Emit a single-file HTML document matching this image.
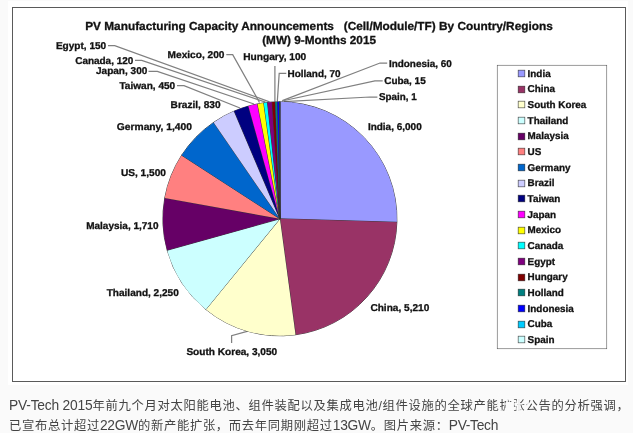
<!DOCTYPE html>
<html lang="zh-CN"><head><meta charset="utf-8"><title>PV Manufacturing Capacity Announcements</title>
<style>
html,body{margin:0;padding:0;}
body{width:633px;height:433px;overflow:hidden;background:#fafafa;position:relative;font-family:"Liberation Sans","Noto Sans CJK SC",sans-serif;}
.cap i{font-style:normal;font-size:13.8px;letter-spacing:-0.3px;line-height:0;}
.cap{position:absolute;left:9px;top:396px;width:640px;font-size:12.3px;letter-spacing:0.7px;line-height:20px;color:#444;white-space:nowrap;margin:0;}
</style></head><body>
<svg width="633" height="433" viewBox="0 0 633 433" style="position:absolute;left:0;top:0;filter:blur(0.4px)">
<rect x="8" y="1" width="620" height="384" fill="#fff"/>
<rect x="12.5" y="7.5" width="613" height="374" fill="#fff" stroke="#5a5a5a" stroke-width="1"/>
<g font-family="'Liberation Sans',sans-serif" font-weight="bold" fill="#111" stroke="#111" stroke-width="0.25" paint-order="stroke" style="text-rendering:geometricPrecision">
<g font-size="11.7px" stroke-width="0.3">
<text x="85.2" y="29.9" textLength="467.6" lengthAdjust="spacingAndGlyphs" xml:space="preserve">PV Manufacturing Capacity Announcements   (Cell/Module/TF) By Country/Regions</text>
<text x="262.2" y="44" textLength="113.8" lengthAdjust="spacingAndGlyphs">(MW) 9-Months 2015</text>
</g>
<path d="M108,45.6 H114.7 L269.5,101.8" fill="none" stroke="#808080" stroke-width="1.25"/><path d="M135,60.3 H141.7 L265.5,102.2" fill="none" stroke="#808080" stroke-width="1.25"/><path d="M148.5,71.4 H157.3 L254,104" fill="none" stroke="#808080" stroke-width="1.25"/><path d="M177,85.7 H184 L240,108" fill="none" stroke="#808080" stroke-width="1.25"/><path d="M226.3,54.7 H232.7 L259.5,102.5" fill="none" stroke="#808080" stroke-width="1.25"/><path d="M274.9,65.9 V101.5" fill="none" stroke="#808080" stroke-width="1.25"/><path d="M286.3,73.3 H279.2 L277.3,101.5" fill="none" stroke="#808080" stroke-width="1.25"/><path d="M387.2,63 H380 L282.3,100.6" fill="none" stroke="#808080" stroke-width="1.25"/><path d="M382.7,80.9 H374.9 L282,101" fill="none" stroke="#808080" stroke-width="1.25"/><path d="M377.4,97 H370 L284,101.6" fill="none" stroke="#808080" stroke-width="1.25"/><path d="M231.6,342.9 V335.7 L248,331.2" fill="none" stroke="#808080" stroke-width="1.25"/>
<g><path d="M279.9,218.8 L279.90,101.80 A117.0,117.0 0 0 1 396.85,222.27 Z" fill="#9999ff" stroke="#333" stroke-width="0.9" stroke-linejoin="round"/><path d="M279.9,218.8 L396.85,222.27 A117.0,117.0 0 0 1 295.49,334.76 Z" fill="#993366" stroke="#333" stroke-width="0.9" stroke-linejoin="round"/><path d="M279.9,218.8 L295.49,334.76 A117.0,117.0 0 0 1 205.90,309.42 Z" fill="#ffffcc" stroke="#333" stroke-width="0.9" stroke-linejoin="round"/><path d="M279.9,218.8 L205.90,309.42 A117.0,117.0 0 0 1 167.21,250.26 Z" fill="#ccffff" stroke="#333" stroke-width="0.9" stroke-linejoin="round"/><path d="M279.9,218.8 L167.21,250.26 A117.0,117.0 0 0 1 164.79,197.88 Z" fill="#660066" stroke="#333" stroke-width="0.9" stroke-linejoin="round"/><path d="M279.9,218.8 L164.79,197.88 A117.0,117.0 0 0 1 181.66,155.25 Z" fill="#ff8080" stroke="#333" stroke-width="0.9" stroke-linejoin="round"/><path d="M279.9,218.8 L181.66,155.25 A117.0,117.0 0 0 1 213.63,122.38 Z" fill="#0066cc" stroke="#333" stroke-width="0.9" stroke-linejoin="round"/><path d="M279.9,218.8 L213.63,122.38 A117.0,117.0 0 0 1 234.18,111.10 Z" fill="#ccccff" stroke="#333" stroke-width="0.9" stroke-linejoin="round"/><path d="M279.9,218.8 L234.18,111.10 A117.0,117.0 0 0 1 248.40,106.12 Z" fill="#000080" stroke="#333" stroke-width="0.9" stroke-linejoin="round"/><path d="M279.9,218.8 L248.40,106.12 A117.0,117.0 0 0 1 257.56,103.95 Z" fill="#ff00ff" stroke="#333" stroke-width="0.9" stroke-linejoin="round"/><path d="M279.9,218.8 L257.56,103.95 A117.0,117.0 0 0 1 263.75,102.92 Z" fill="#ffff00" stroke="#333" stroke-width="0.9" stroke-linejoin="round"/><path d="M279.9,218.8 L263.75,102.92 A117.0,117.0 0 0 1 267.49,102.46 Z" fill="#00ffff" stroke="#333" stroke-width="0.9" stroke-linejoin="round"/><path d="M279.9,218.8 L267.49,102.46 A117.0,117.0 0 0 1 272.18,102.05 Z" fill="#800080" stroke="#333" stroke-width="0.9" stroke-linejoin="round"/><path d="M279.9,218.8 L272.18,102.05 A117.0,117.0 0 0 1 275.32,101.89 Z" fill="#800000" stroke="#333" stroke-width="0.9" stroke-linejoin="round"/><path d="M279.9,218.8 L275.32,101.89 A117.0,117.0 0 0 1 277.51,101.82 Z" fill="#008080" stroke="#333" stroke-width="0.9" stroke-linejoin="round"/><path d="M279.9,218.8 L277.51,101.82 A117.0,117.0 0 0 1 279.40,101.80 Z" fill="#0000ff" stroke="#333" stroke-width="0.9" stroke-linejoin="round"/><path d="M279.9,218.8 L279.40,101.80 A117.0,117.0 0 0 1 279.87,101.80 Z" fill="#00ccff" stroke="#333" stroke-width="0.9" stroke-linejoin="round"/><path d="M279.9,218.8 L279.87,101.80 A117.0,117.0 0 0 1 279.90,101.80 Z" fill="#ccffff" stroke="#333" stroke-width="0.9" stroke-linejoin="round"/></g>
<g font-size="9.9px" stroke-width="0.3"><text x="55.9" y="49.3" textLength="50.3" lengthAdjust="spacingAndGlyphs">Egypt, 150</text><text x="75.2" y="63.6" textLength="58.1" lengthAdjust="spacingAndGlyphs">Canada, 120</text><text x="96" y="74.2" textLength="51.3" lengthAdjust="spacingAndGlyphs">Japan, 300</text><text x="119.4" y="89.1" textLength="55.8" lengthAdjust="spacingAndGlyphs">Taiwan, 450</text><text x="170.6" y="108.0" textLength="50.0" lengthAdjust="spacingAndGlyphs">Brazil, 830</text><text x="116.8" y="129.9" textLength="75.2" lengthAdjust="spacingAndGlyphs">Germany, 1,400</text><text x="120.9" y="176.0" textLength="45.1" lengthAdjust="spacingAndGlyphs">US, 1,500</text><text x="167.6" y="58.2" textLength="56.9" lengthAdjust="spacingAndGlyphs">Mexico, 200</text><text x="243.2" y="59.6" textLength="63.1" lengthAdjust="spacingAndGlyphs">Hungary, 100</text><text x="287.5" y="76.7" textLength="53.1" lengthAdjust="spacingAndGlyphs">Holland, 70</text><text x="388.9" y="66.7" textLength="62.9" lengthAdjust="spacingAndGlyphs">Indonesia, 60</text><text x="384.2" y="83.7" textLength="41.5" lengthAdjust="spacingAndGlyphs">Cuba, 15</text><text x="379" y="100.2" textLength="37.6" lengthAdjust="spacingAndGlyphs">Spain, 1</text><text x="367.9" y="129.9" textLength="53.8" lengthAdjust="spacingAndGlyphs">India, 6,000</text><text x="370.4" y="311.0" textLength="58.9" lengthAdjust="spacingAndGlyphs">China, 5,210</text><text x="186.4" y="355.0" textLength="90.8" lengthAdjust="spacingAndGlyphs">South Korea, 3,050</text><text x="106.7" y="295.6" textLength="72.1" lengthAdjust="spacingAndGlyphs">Thailand, 2,250</text><text x="86.2" y="229.0" textLength="72.3" lengthAdjust="spacingAndGlyphs">Malaysia, 1,710</text></g>
<g font-size="9.9px" stroke-width="0.3"><rect x="497.5" y="65.5" width="109.0" height="283.0" fill="#fff" stroke="#484848" stroke-width="1.1"/><rect x="518.5" y="70.5" width="6" height="6" fill="#9999ff" stroke="#4a4a4a" stroke-width="1.3"/><text x="527.6" y="76.70">India</text><rect x="518.5" y="86.5" width="6" height="6" fill="#993366" stroke="#4a4a4a" stroke-width="1.3"/><text x="527.6" y="92.36">China</text><rect x="518.5" y="101.5" width="6" height="6" fill="#ffffcc" stroke="#4a4a4a" stroke-width="1.3"/><text x="527.6" y="108.03">South Korea</text><rect x="518.5" y="117.5" width="6" height="6" fill="#ccffff" stroke="#4a4a4a" stroke-width="1.3"/><text x="527.6" y="123.69">Thailand</text><rect x="518.5" y="133.5" width="6" height="6" fill="#660066" stroke="#4a4a4a" stroke-width="1.3"/><text x="527.6" y="139.36">Malaysia</text><rect x="518.5" y="148.5" width="6" height="6" fill="#ff8080" stroke="#4a4a4a" stroke-width="1.3"/><text x="527.6" y="155.02">US</text><rect x="518.5" y="164.5" width="6" height="6" fill="#0066cc" stroke="#4a4a4a" stroke-width="1.3"/><text x="527.6" y="170.69">Germany</text><rect x="518.5" y="180.5" width="6" height="6" fill="#ccccff" stroke="#4a4a4a" stroke-width="1.3"/><text x="527.6" y="186.35">Brazil</text><rect x="518.5" y="195.5" width="6" height="6" fill="#000080" stroke="#4a4a4a" stroke-width="1.3"/><text x="527.6" y="202.02">Taiwan</text><rect x="518.5" y="211.5" width="6" height="6" fill="#ff00ff" stroke="#4a4a4a" stroke-width="1.3"/><text x="527.6" y="217.68">Japan</text><rect x="518.5" y="227.5" width="6" height="6" fill="#ffff00" stroke="#4a4a4a" stroke-width="1.3"/><text x="527.6" y="233.35">Mexico</text><rect x="518.5" y="242.5" width="6" height="6" fill="#00ffff" stroke="#4a4a4a" stroke-width="1.3"/><text x="527.6" y="249.01">Canada</text><rect x="518.5" y="258.5" width="6" height="6" fill="#800080" stroke="#4a4a4a" stroke-width="1.3"/><text x="527.6" y="264.68">Egypt</text><rect x="518.5" y="274.5" width="6" height="6" fill="#800000" stroke="#4a4a4a" stroke-width="1.3"/><text x="527.6" y="280.34">Hungary</text><rect x="518.5" y="289.5" width="6" height="6" fill="#008080" stroke="#4a4a4a" stroke-width="1.3"/><text x="527.6" y="296.01">Holland</text><rect x="518.5" y="305.5" width="6" height="6" fill="#0000ff" stroke="#4a4a4a" stroke-width="1.3"/><text x="527.6" y="311.67">Indonesia</text><rect x="518.5" y="321.5" width="6" height="6" fill="#00ccff" stroke="#4a4a4a" stroke-width="1.3"/><text x="527.6" y="327.34">Cuba</text><rect x="518.5" y="336.5" width="6" height="6" fill="#ccffff" stroke="#4a4a4a" stroke-width="1.3"/><text x="527.6" y="343.00">Spain</text></g>
</g>
</svg>
<p class="cap"><i style="letter-spacing:-0.2px">PV-Tech 2015</i>年前九个月对太阳能电池、组件装配以及集成电池/组件设施的全球产能扩张公告的分析强调，<br>已宣布总计超过<i>22GW</i>的新产能扩张，而去年同期刚超过<i>13GW</i>。图片来源：<i>PV-Tech</i></p>
<svg width="40" height="40" viewBox="0 0 40 40" style="position:absolute;left:493px;top:382px;z-index:5" opacity="0.88">
<g fill="none" stroke="#fbfbfb" stroke-linecap="round">
<circle cx="20" cy="20" r="15" stroke-width="2.4"/>
<path d="M11,12 H29 M13,15.5 H27" stroke-width="1.8"/>
<path d="M14,17 V30 M20,15 V31 M26,17 V30" stroke-width="2.2"/>
<path d="M16.5,19 V26 M23,19 V26" stroke-width="1.4"/>
<path d="M11,22 H29 M12,27 H28" stroke-width="1.6"/>
</g></svg>
</body></html>
